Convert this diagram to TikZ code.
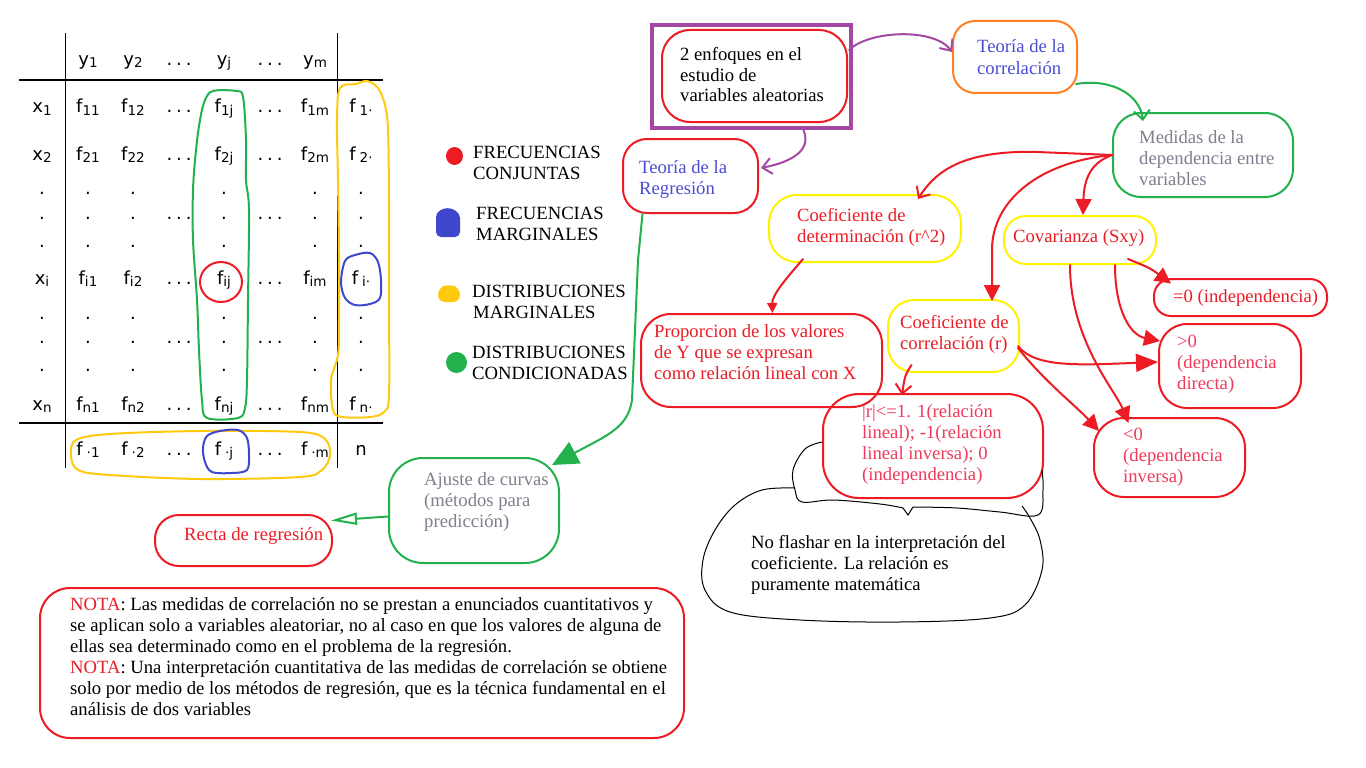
\documentclass[tikz,border=0pt]{standalone}
\usepackage{fontspec}
\setmainfont{Liberation Serif}
\newfontfamily\tabf{DejaVu Sans}
\usetikzlibrary{arrows.meta,calc}
\definecolor{pred}{HTML}{ED1C24}
\definecolor{pgreen}{HTML}{22B14C}
\definecolor{pyel}{HTML}{FFF200}
\definecolor{pgold}{HTML}{FFC90E}
\definecolor{pblue}{HTML}{3F48CC}
\definecolor{ppurp}{HTML}{A349A4}
\definecolor{porange}{HTML}{FF7F27}
\definecolor{tblue}{HTML}{4B4BD6}
\definecolor{tgray}{HTML}{7F7F8F}
\definecolor{tpink}{HTML}{F03A5C}
\newcommand\ml[1]{\begin{tabular}[t]{@{}l@{}}#1\end{tabular}}
\newcommand\sbx[1]{\raisebox{-2pt}{\fontsize{13.5}{13.5}\selectfont #1}}
\newcommand\tdots{\makebox[25pt]{.\hfill.\hfill.}}
\tikzset{
  blob/.style={draw, line width=2pt, rounded corners=18pt, inner sep=0pt},
  lbl/.style={anchor=base west, inner sep=0pt, font=\fontsize{18.67}{21}\selectfont},
  cell/.style={anchor=base, inner sep=0pt, font=\tabf\fontsize{18}{18}\selectfont},
  conn/.style={line width=2pt, line cap=round, line join=round},
  barb/.style={conn, -{Straight Barb[length=9pt,width=16pt]}},
  filltip/.style={conn, -{Triangle[length=16pt,width=16pt]}},
  loop/.style={line width=2pt},
  tline/.style={line width=1.3pt},
}
\begin{document}
\begin{tikzpicture}[x=1pt,y=-1pt]
\useasboundingbox (0,0) rectangle (1366,768);
\fill[white] (0,0) rectangle (1366,768);

% ---------------- table ----------------
\draw[tline] (19,80) -- (383,80);
\draw[tline] (19,423) -- (383,423);
\draw[tline] (65.7,33) -- (65.7,468);
\draw[tline] (337.7,33) -- (337.7,468);

\node[cell] (hy1) at (88,66) {y\sbx{1}};
\node[cell] (hy2) at (133,66) {y\sbx{2}};
\node[cell] (hd1) at (179,66) {\tdots};
\node[cell] (hyj) at (224,66) {y\sbx{j}};
\node[cell] (hd2) at (270,66) {\tdots};
\node[cell] (hym) at (315,66) {y\sbx{m}};

\foreach \r/\yy in {1/113, 2/160, i/284, n/410} {
  \node[cell] (x\r) at (42,\yy) {x\sbx{\r}};
  \node[cell] (f\r1) at (88,\yy) {f\sbx{\r1}};
  \node[cell] (f\r2) at (133,\yy) {f\sbx{\r2}};
  \node[cell] (da\r) at (179,\yy) {\tdots};
  \node[cell] (f\r j) at (224,\yy) {f\sbx{\r j}};
  \node[cell] (db\r) at (270,\yy) {\tdots};
  \node[cell] (f\r m) at (315,\yy) {f\sbx{\r m}};
  \node[cell] (fm\r) at (361,\yy) {f\hspace{4pt}\sbx{\r·}};
}
\foreach \yy in {194,219,247,319,343,371} {
  \foreach \xx in {42,88,133,224,315,361} {
    \node[cell] (p\yy-\xx) at (\xx,\yy) {.};
  }
}
\foreach \yy in {219,343} {
  \node[cell] (q\yy a) at (179,\yy) {\tdots};
  \node[cell] (q\yy b) at (270,\yy) {\tdots};
}
\node[cell] (fc1) at (88,455) {f\hspace{4pt}\sbx{·1}};
\node[cell] (fc2) at (133,455) {f\hspace{4pt}\sbx{·2}};
\node[cell] (bd1) at (179,455) {\tdots};
\node[cell] (fcj) at (224,455) {f\hspace{4pt}\sbx{·j}};
\node[cell] (bd2) at (270,455) {\tdots};
\node[cell] (fcm) at (315,455) {f\hspace{4pt}\sbx{·m}};
\node[cell] (nn) at (361,455) {n};

% loops
\draw[pgreen, loop] plot[smooth cycle, tension=0.55] coordinates {(205,100) (213,91) (236,91) (243,97) (246,140) (246,180) (249,210) (248,300) (247,380) (245,408) (238,418) (207,418) (202,400) (199,350) (197,300) (193,240) (193,190) (196,150) (200,120)};
\draw[pgold, loop] plot[smooth cycle, tension=0.55] coordinates {(340,88) (356,84) (367,81) (378,88) (385,105) (388,130) (389,200) (389,300) (389,395) (384,412) (370,417) (342,417) (333,410) (331,380) (338,355) (339,320) (339,250) (338,180) (337,120)};
\draw[pblue, loop] plot[smooth cycle, tension=0.55] coordinates {(345,261) (355,255) (370,253) (378,262) (381,280) (380,298) (370,304) (355,305) (345,298) (341,282)};
\draw[pred, loop] (221,282) ellipse [x radius=21, y radius=20];
\draw[pgold, loop] plot[smooth cycle, tension=0.55] coordinates {(76,440) (110,434) (200,431) (300,432) (325,439) (330,455) (322,470) (300,477) (200,479) (110,475) (78,470) (71,455)};
\draw[pblue, loop] plot[smooth cycle, tension=0.55] coordinates {(207,436) (220,431) (238,430) (247,438) (249,455) (247,470) (232,473) (212,472) (205,462) (203,448)};

% ---------------- legend ----------------
\fill[pred] (454.5,156) ellipse [x radius=8.5, y radius=9];
\fill[pblue, rounded corners=5pt] (436,212) -- (448,207) -- (460,213) -- (460,237) -- (436,237) -- cycle;
\fill[pgold, rounded corners=7pt] (438,302) -- (438,288) -- (449,284) -- (460,288) -- (460,302) -- cycle;
\fill[pgreen] (456.5,362.5) circle (10.5);
\node[lbl] (lg1) at (473,158) {\ml{FRECUENCIAS\\CONJUNTAS}};
\node[lbl] (lg2) at (476,219) {\ml{FRECUENCIAS\\MARGINALES}};
\node[lbl] (lg3) at (472,297) {\ml{DISTRIBUCIONES\\\hspace{1pt}MARGINALES}};
\node[lbl] (lg4) at (472,358) {\ml{DISTRIBUCIONES\\CONDICIONADAS}};

% ---------------- clouds ----------------
\node[draw=ppurp, line width=4.3pt, minimum width=199pt, minimum height=103pt, inner sep=0pt] (frame) at (751.5,76.5) {};
\node[blob, pred, minimum width=185pt, minimum height=92pt, rounded corners=28pt] (enf) at (754.5,76) {};
\node[blob, porange, minimum width=124pt, minimum height=72pt, rounded corners=22pt] (cor) at (1015,57) {};
\node[blob, pred, minimum width=135pt, minimum height=74pt, rounded corners=24pt] (reg) at (690.5,176) {};
\node[blob, pgreen, minimum width=180pt, minimum height=84pt, rounded corners=28pt] (med) at (1203,155) {};
\node[blob, pyel, minimum width=152pt, minimum height=48pt, rounded corners=22pt] (cov) at (1080,240) {};
\node[blob, pred, minimum width=173pt, minimum height=37pt, rounded corners=17pt] (eq0) at (1240.5,297.5) {};
\node[blob, pyel, minimum width=192pt, minimum height=67pt, rounded corners=28pt] (det) at (865,228.5) {};
\node[blob, pred, minimum width=241pt, minimum height=93pt, rounded corners=30pt] (prop) at (761.5,360.5) {};
\node[blob, pyel, minimum width=131pt, minimum height=72pt, rounded corners=26pt] (corr) at (953.5,336) {};
\node[blob, pred, minimum width=220pt, minimum height=104pt, rounded corners=36pt] (rabs) at (933,446) {};
\node[blob, pred, minimum width=142pt, minimum height=84pt, rounded corners=28pt] (gt0) at (1230,366) {};
\node[blob, pred, minimum width=151pt, minimum height=79pt, rounded corners=30pt] (lt0) at (1169.5,457.5) {};
\node[blob, pgreen, minimum width=170pt, minimum height=105pt, rounded corners=34pt] (aju) at (474,510.5) {};
\node[blob, pred, minimum width=177pt, minimum height=51pt, rounded corners=24pt] (rec) at (243.5,540.5) {};
\node[blob, pred, minimum width=644pt, minimum height=150pt, rounded corners=30pt] (nota) at (362,663) {};

% black thought cloud
\draw[black, line width=1pt] plot[smooth, tension=0.6] coordinates {(795,488) (762,490) (735,505) (715,530) (703,560) (705,590) (730,612) (800,620) (900,622) (990,618) (1025,605) (1042,570) (1040,540) (1030,518) (1022,506)};
\draw[black, line width=1pt] plot[smooth, tension=0.6] coordinates {(822,442) (805,449) (793,470) (795,490) (802,502) (833,500) (880,504) (903,508)};
\draw[black, line width=1pt] (903,508) -- (908,515) -- (913,507);
\draw[black, line width=1pt] plot[smooth, tension=0.6] coordinates {(913,507) (957,508) (1000,512) (1038,515) (1043,490) (1042,470)};

% ---------------- texts ----------------
\node[lbl] (tenf) at (680,60) {\ml{2 enfoques en el\\estudio de\\variables aleatorias}};
\node[lbl, text=tblue] (tcor) at (977,53) {\ml{Teoría de la\\correlación}};
\node[lbl, text=tblue] (treg) at (639,173) {\ml{Teoría de la\\Regresión}};
\node[lbl, text=tgray] (tmed) at (1139,143) {\ml{Medidas de la\\dependencia entre\\variables}};
\node[lbl, text=pred] (tcov) at (1013,242) {Covarianza (Sxy)};
\node[lbl, text=pred] (teq0) at (1173,302) {=0 (independencia)};
\node[lbl, text=pred] (tdet) at (797,221) {\ml{Coeficiente de\\determinación (r\textasciicircum 2)}};
\node[lbl, text=pred] (tprop) at (654,337) {\ml{Proporcion de los valores\\de Y que se expresan\\como relación lineal con X}};
\node[lbl, text=pred] (tcorr) at (900,328) {\ml{Coeficiente de\\correlación (r)}};
\node[lbl, text=tpink] (trabs) at (862,417) {\ml{|r|<=1. 1(relación\\lineal); -1(relación\\lineal inversa); 0\\(independencia)}};
\node[lbl, text=tpink] (tgt0) at (1177,347) {\ml{>0\\(dependencia\\directa)}};
\node[lbl, text=tpink] (tlt0) at (1123,440) {\ml{<0\\(dependencia\\inversa)}};
\node[lbl, text=tgray] (taju) at (424,485) {\ml{Ajuste de curvas\\(métodos para\\predicción)}};
\node[lbl, text=pred] (trec) at (184,540) {Recta de regresión};
\node[lbl] (tnof) at (751,548) {\ml{No flashar en la interpretación del\\coeficiente. La relación es\\puramente matemática}};
\node[lbl] (tnota) at (70,610) {\ml{\textcolor{pred}{NOTA}: Las medidas de correlación no se prestan a enunciados cuantitativos y\\se aplican solo a variables aleatoriar, no al caso en que los valores de alguna de\\ellas sea determinado como en el problema de la regresión.\\\textcolor{pred}{NOTA}: Una interpretación cuantitativa de las medidas de correlación se obtiene\\solo por medio de los métodos de regresión, que es la técnica fundamental en el\\análisis de dos variables}};

% ---------------- connectors ----------------
\draw[barb, ppurp] ($(frame.north east)+(-4,27)$) .. controls (870,30) and (935,28) .. ($(cor.west)+(0,-5)$);
\draw[barb, ppurp] ($(frame.south)+(52,0)$) .. controls (812,150) and (792,162) .. ($(reg.east)+(2,-8)$);
\draw[conn, pgreen, -{Triangle[length=26pt,width=24pt]}] ($(reg.south)+(-48,0)$) -- (638,260) -- (632,400) .. controls (628,428) and (606,436) .. ($(aju.north east)+(-8,8)$);
\draw[conn, pgreen, -{Triangle[open,length=26pt,width=12pt]}] ($(aju.west)+(0,6)$) -- ($(rec.east)+(-2,-20)$);
\draw[barb, pgreen] ($(cor.south east)+(-2,-10)$) .. controls (1112,78) and (1140,95) .. ($(med.north)+(-60,9)$);
\draw[barb, pred] (med.west) -- (1037,152) .. controls (962,150) and (935,172) .. ($(det.north)+(53,5)$);
\draw[filltip, pred] (med.west) .. controls (1040,162) and (992,200) .. (992,250) -- ($(corr.north)+(38.5,2)$);
\draw[filltip, pred] (med.west) .. controls (1090,163) and (1084,180) .. ($(cov.north)+(3,0)$);
\draw[conn, pred, -{Triangle[length=10pt,width=10pt]}] ($(det.south)+(-62,-4)$) .. controls (785,280) and (772,295) .. ($(prop.north)+(11,0)$);
\draw[barb, pred] ($(corr.south)+(-42,-8)$) .. controls (905,375) .. ($(rabs.north)+(-31,2)$);
\draw[conn, pred, -{Triangle[length=22pt,width=18pt]}] ($(corr.east)+(-2,10)$) .. controls (1035,368) and (1080,365) .. ($(gt0.west)+(0,-4)$);
\draw[filltip, pred] ($(corr.east)+(-2,12)$) .. controls (1045,382) and (1075,405) .. ($(lt0.north west)+(6,14)$);
\draw[filltip, pred] ($(cov.east)+(-29,19)$) .. controls (1150,268) .. ($(eq0.west)+(18,-14)$);
\draw[filltip, pred] ($(cov.south)+(35,0)$) .. controls (1115,310) and (1130,335) .. ($(gt0.north west)+(2,18)$);
\draw[filltip, pred] ($(cov.south)+(-10,0)$) .. controls (1070,340) and (1115,390) .. ($(lt0.north)+(-41,6)$);
\end{tikzpicture}
\end{document}
